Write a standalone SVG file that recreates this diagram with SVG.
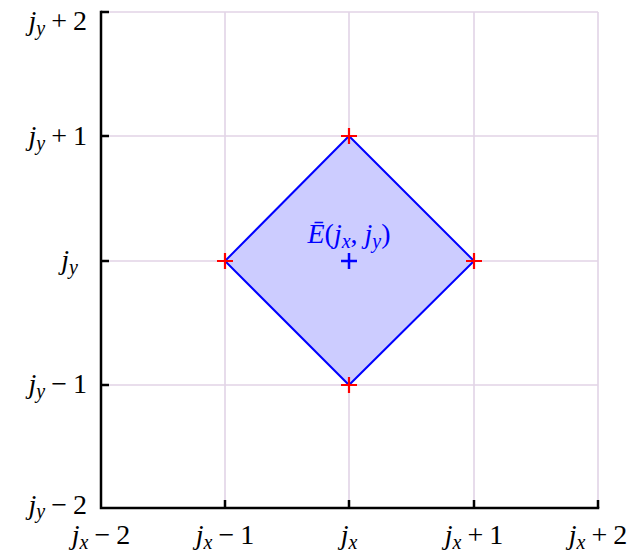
<svg xmlns="http://www.w3.org/2000/svg" width="635" height="556" viewBox="0 0 635 556">
<style>
.grid{stroke:#e2d4e6;stroke-width:1.6;fill:none}
.axis{stroke:#000;stroke-width:2.5;fill:none;stroke-linecap:square}
.tick{stroke:#000;stroke-width:2.5}
.lbl{font-family:"Liberation Serif",serif;font-size:28px;fill:#000}
.i{font-style:italic}
.sub{font-style:italic;font-size:20px}
.red{stroke:#ff0000;stroke-width:2.2}
.blu{stroke:#0000ff;stroke-width:2.5}
</style>
<g id="grid">
<path class="grid" d="M225,12V508M349,12V508M474,12V508M598,12V508M101,12H598M101,136H598M101,261H598M101,385H598"/>
</g>
<g id="diamond">
<polygon points="349,136 474,261 349,385 225,261" fill="#ccccff" stroke="#0000ff" stroke-width="2"/>
</g>
<g id="axes">
<path class="axis" d="M101,12V508H598"/>
<path class="tick" d="M225,508V500M349,508V500M474,508V500M598,508V500M101,385H109M101,261H109M101,136H109M101,12H109"/>
</g>
<g id="points">
<path class="red" d="M341,136H357M349,128V144M466,261H482M474,253V269M341,385H357M349,377V393M217,261H233M225,253V269"/>
<path class="blu" d="M341,261H357M349,253V269"/>
</g>
<g id="centerlabel">
<text class="lbl" x="349" y="243" text-anchor="middle" style="fill:#0000ff"><tspan class="i">Ē</tspan>(<tspan class="i">j</tspan><tspan class="sub" dy="5">x</tspan><tspan dy="-5">, </tspan><tspan class="i">j</tspan><tspan class="sub" dy="5">y</tspan><tspan dy="-5">)</tspan></text>
</g>
<g id="ylabels">
<text class="lbl" x="87" y="30" text-anchor="end"><tspan class="i">j</tspan><tspan class="sub" dy="5">y</tspan><tspan dy="-5" dx="6">+</tspan><tspan dx="6">2</tspan></text>
<text class="lbl" x="87" y="145" text-anchor="end"><tspan class="i">j</tspan><tspan class="sub" dy="5">y</tspan><tspan dy="-5" dx="6">+</tspan><tspan dx="6">1</tspan></text>
<text class="lbl" x="78" y="269" text-anchor="end"><tspan class="i">j</tspan><tspan class="sub" dy="5">y</tspan></text>
<text class="lbl" x="87" y="393" text-anchor="end"><tspan class="i">j</tspan><tspan class="sub" dy="5">y</tspan><tspan dy="-5" dx="6">−</tspan><tspan dx="6">1</tspan></text>
<text class="lbl" x="87" y="514" text-anchor="end"><tspan class="i">j</tspan><tspan class="sub" dy="4">y</tspan><tspan dy="-4" dx="6">−</tspan><tspan dx="6">2</tspan></text>
</g>
<g id="xlabels">
<text class="lbl" x="101" y="544" text-anchor="middle"><tspan class="i">j</tspan><tspan class="sub" dy="5">x</tspan><tspan dy="-5" dx="6">−</tspan><tspan dx="6">2</tspan></text>
<text class="lbl" x="225" y="544" text-anchor="middle"><tspan class="i">j</tspan><tspan class="sub" dy="5">x</tspan><tspan dy="-5" dx="6">−</tspan><tspan dx="6">1</tspan></text>
<text class="lbl" x="349" y="544" text-anchor="middle"><tspan class="i">j</tspan><tspan class="sub" dy="5">x</tspan></text>
<text class="lbl" x="474" y="544" text-anchor="middle"><tspan class="i">j</tspan><tspan class="sub" dy="5">x</tspan><tspan dy="-5" dx="6">+</tspan><tspan dx="6">1</tspan></text>
<text class="lbl" x="598" y="544" text-anchor="middle"><tspan class="i">j</tspan><tspan class="sub" dy="5">x</tspan><tspan dy="-5" dx="6">+</tspan><tspan dx="6">2</tspan></text>
</g>
</svg>
